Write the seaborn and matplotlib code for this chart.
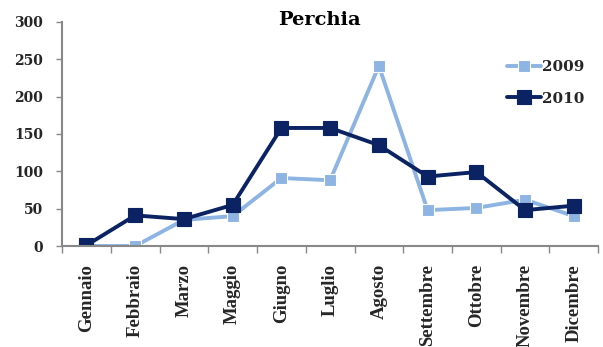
import matplotlib
matplotlib.use("Agg")
import matplotlib.pyplot as plt
from matplotlib.ticker import FixedLocator
import seaborn as sns
import pandas as pd

months = ["Gennaio", "Febbraio", "Marzo", "Maggio", "Giugno", "Luglio",
          "Agosto", "Settembre", "Ottobre", "Novembre", "Dicembre"]
vals_2009 = [0, 0, 35, 40, 91, 88, 241, 48, 51, 62, 40]
vals_2010 = [1, 41, 36, 55, 158, 158, 135, 93, 99, 48, 54]
series = ["2009", "2010"]
colors = {"2009": "#8db4e2", "2010": "#0b2363"}

sns.set_theme(style="white")
plt.rcParams["font.family"] = ["DejaVu Serif"]
plt.rcParams["font.weight"] = "bold"

rows = []
for name, vals in zip(series, [vals_2009, vals_2010]):
    for i, v in enumerate(vals):
        rows.append({"pos": i, "mese": months[i], "valore": v, "anno": name})
df = pd.DataFrame(rows)

fig = plt.figure(figsize=(6.03, 3.47), dpi=100)
ax = fig.add_axes([0.103, 0.291, 0.889, 0.646])

sizes = {"2009": 8.5, "2010": 10.5}
for name in series:
    sub = df[df["anno"] == name]
    sns.lineplot(data=sub, x="pos", y="valore", ax=ax, color=colors[name],
                 linewidth=2.8, marker="s", markersize=sizes[name],
                 markeredgewidth=0.8,
                 markeredgecolor="white" if name == "2009" else colors[name],
                 label=name, estimator=None)

ax.set_xlim(-0.5, len(months) - 0.5)
ax.set_ylim(0, 300)
ax.set_yticks([0, 50, 100, 150, 200, 250, 300])
ax.set_xticks(range(len(months)))
ax.set_xticklabels(months, rotation=90, va="top", ha="center",
                   fontsize=13.5, fontweight="bold", family="Liberation Serif")
ax.xaxis.set_minor_locator(FixedLocator([i - 0.5 for i in range(len(months) + 1)]))
ax.tick_params(axis="x", which="major", length=0, pad=13)
ax.tick_params(axis="x", which="minor", length=5, width=1, color="#888888",
               direction="out", bottom=True)
ax.tick_params(axis="y", length=4.5, width=1, color="#888888", direction="out",
               left=True, labelsize=10, pad=9)
for lab in ax.get_yticklabels():
    lab.set_fontweight("bold")
ax.set_xlabel("")
ax.set_ylabel("")

for s in ["top", "right"]:
    ax.spines[s].set_visible(False)
for s in ["left", "bottom"]:
    ax.spines[s].set_color("#888888")
    ax.spines[s].set_linewidth(1.5)

ax.text(0.48, 1.01, "Perchia", transform=ax.transAxes, ha="center", va="center",
        fontsize=14, fontweight="bold", color="black")

leg = ax.legend(loc="upper right", bbox_to_anchor=(1.0, 0.89), frameon=False,
                fontsize=11, handlelength=2.2, labelspacing=1.15, handletextpad=0.1)
for t in leg.get_texts():
    t.set_fontweight("bold")

fig.savefig("out.png", dpi=100)
